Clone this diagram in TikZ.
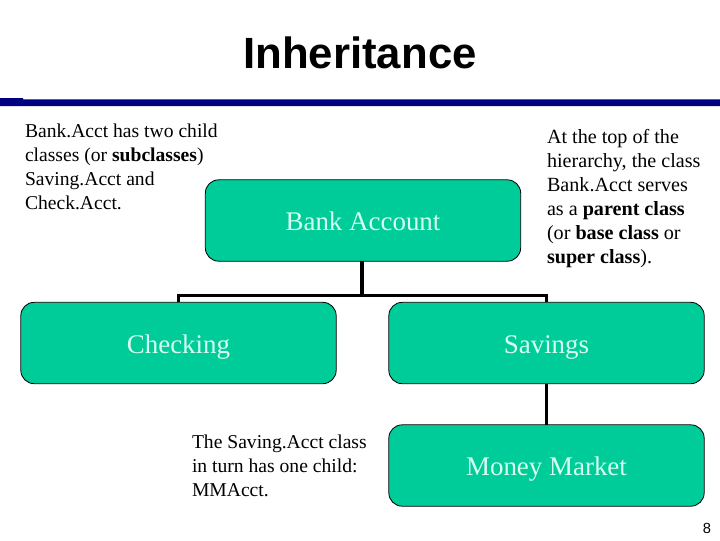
\documentclass[tikz,border=0pt]{standalone}
\usepackage{fontspec}
\setmainfont{Liberation Serif}
\newfontfamily\titlefont{Liberation Sans}
\usepackage{xcolor}
\definecolor{boxgreen}{RGB}{0,204,153}
\definecolor{rulenavy}{RGB}{0,0,128}
\definecolor{boxtext}{RGB}{215,255,240}
\newcommand{\widthbox}{236.5pt}
\newcommand{\heightbox}{61pt}
\tikzset{
    common/.style={inner sep=0pt, outer sep=0pt},
    classbox/.style={common, draw=black, line width=0.6pt, fill=boxgreen, rounded corners=10pt,
        minimum width=\widthbox, minimum height=\heightbox, text height=18pt, text depth=3pt,
        text=boxtext, font=\fontsize{20.2}{23}\selectfont},
    note/.style={common, anchor=north west, align=left, font=\fontsize{14.7}{18}\selectfont},
    widenote/.style={note, font=\fontsize{15.1}{18}\selectfont},
    link/.style={line width=2.3pt, black}
}

\begin{document}
\begin{tikzpicture}[x=0.75pt, y=-0.75pt]
      \useasboundingbox (0,0) rectangle (720,540);

      \path
          (360,52.5) node[common, font=\titlefont\bfseries\fontsize{32.8}{36}\selectfont] (title) {Inheritance}
          (0,98.2) coordinate (bar-step)
          (23,99.3) coordinate (bar-left)
          (720,106) coordinate (bar-right);
      \fill[rulenavy] (bar-step) rectangle (bar-left |- bar-right) (bar-left) rectangle (bar-right);

      \path
          (363,220.5) node[classbox] (bank) {Bank Account}
          (178.5,343) node[classbox] (checking) {Checking}
          (546.5,343) node[classbox] (savings) {Savings}
          (546.5,465.5) node[classbox] (money) {Money Market};

      \path
          (25,123.5) node[note] (note-child) {Bank.Acct has two child\\classes (or \textbf{subclasses})\\Saving.Acct and\\Check.Acct.}
          (547,129) node[widenote] (note-parent) {At the top of the\\hierarchy, the class\\Bank.Acct serves\\as a \textbf{parent class}\\(or \textbf{base class} or\\\textbf{super class}).}
          (192,435) node[note] (note-turn) {The Saving.Acct class\\in turn has one child:\\MMAcct.}
          (707,528) node[common, font=\titlefont\fontsize{11}{13}\selectfont] (page) {8};

      \path (362,295.5) coordinate (bus);
      \draw[link] (bank.south -| bus) -- (bus);
      \draw[link] (checking.north) |- (bus) -| (savings.north);
      \draw[link] (savings.south) -- (money.north);
\end{tikzpicture}
\end{document}
